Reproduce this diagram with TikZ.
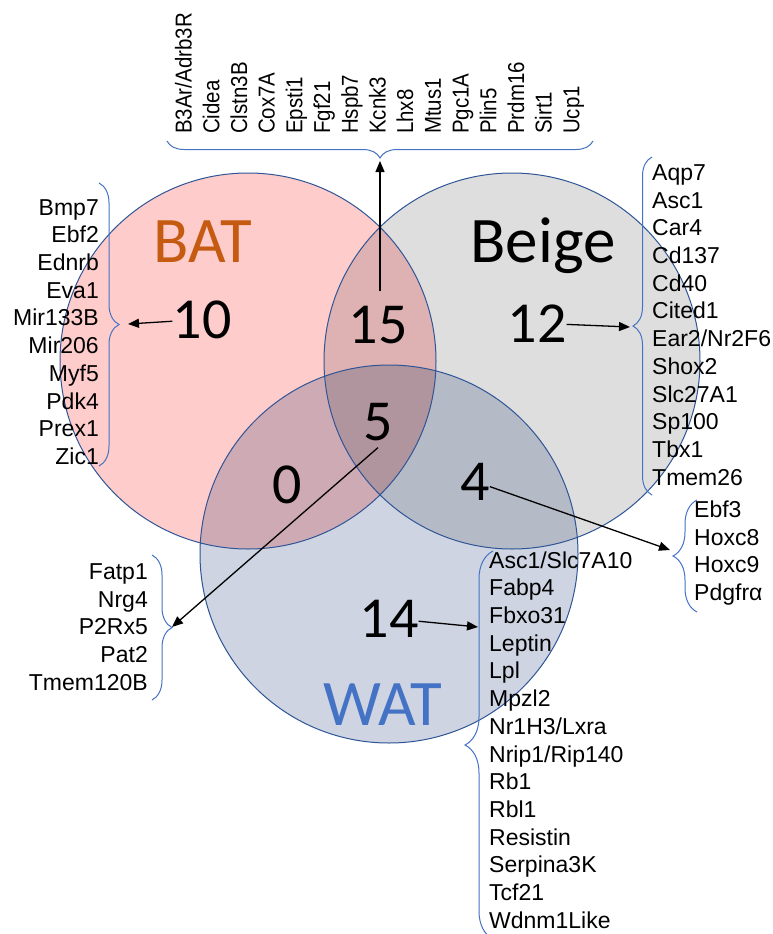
\documentclass[tikz,border=0pt]{standalone}
\usepackage{fontspec}
\setmainfont{Liberation Sans}
\newfontfamily\calib{Carlito}
\usetikzlibrary{decorations.pathreplacing,arrows.meta}

\definecolor{batfill}{RGB}{255,204,204}
\definecolor{beigefill}{RGB}{222,222,222}
\definecolor{watfill}{RGB}{206,212,226}
\definecolor{batbeige}{RGB}{222,178,178}
\definecolor{batwat}{RGB}{206,170,181}
\definecolor{beigewat}{RGB}{181,186,199}
\definecolor{allthree}{RGB}{176,148,158}
\definecolor{ringcol}{RGB}{47,85,151}
\definecolor{bracecol}{RGB}{68,114,196}
\definecolor{batlabel}{RGB}{197,90,17}
\definecolor{watlabel}{RGB}{68,114,196}

\newcommand\genefont{\fontsize{23}{27.7}\selectfont}

\begin{document}
\begin{tikzpicture}[x=1pt,y=-1pt,
  gene/.style={font=\genefont, inner sep=0pt},
  count/.style={font=\calib\fontsize{58}{70}\selectfont, inner sep=0pt},
  setlbl/.style={font=\calib\fontsize{65}{78}\selectfont, inner sep=0pt},
  gbrace/.style={draw=bracecol, line width=1pt, decorate, decoration={brace, amplitude=#1}},
  pointer/.style={draw=black, line width=1.3pt, -{Triangle[length=11pt,width=9pt]}},
  ring/.style={draw=ringcol, line width=1pt}]

\useasboundingbox (0,0) rectangle (772,934);
\fill[white] (0,0) rectangle (772,934);
\clip (0,0) rectangle (772,934);

% circle centres
\coordinate (cbat) at (248,361);
\coordinate (cbeige) at (512,361);
\coordinate (cwat) at (389,554);
\def\rbat{188}
\def\rbeige{188}
\def\rwat{189}

% region fills
\fill[batfill] (cbat) circle[radius=\rbat];
\fill[beigefill] (cbeige) circle[radius=\rbeige];
\fill[watfill] (cwat) circle[radius=\rwat];
\begin{scope}
  \clip (cbeige) circle[radius=\rbeige];
  \fill[beigewat] (cwat) circle[radius=\rwat];
\end{scope}
\begin{scope}
  \clip (cbat) circle[radius=\rbat];
  \fill[batbeige] (cbeige) circle[radius=\rbeige];
  \fill[batwat] (cwat) circle[radius=\rwat];
  \clip (cbeige) circle[radius=\rbeige];
  \fill[allthree] (cwat) circle[radius=\rwat];
\end{scope}

% outlines
\draw[ring] (cbat) circle[radius=\rbat];
\draw[ring] (cbeige) circle[radius=\rbeige];
\draw[ring] (cwat) circle[radius=\rwat];

% set labels
\node[setlbl, text=batlabel, anchor=base] (batlbl) at (203,262) {BAT};
\node[setlbl, text=black, anchor=base] (beigelbl) at (543,262) {Beige};
\node[setlbl, text=watlabel, anchor=base] (watlbl) at (383,725) {WAT};

% counts
\node[count, anchor=base] (n10) at (202,338) {10};
\node[count, anchor=base] (n12) at (537,342) {12};
\node[count, anchor=base] (n15) at (378,343) {15};
\node[count, anchor=base] (n5) at (378,440) {5};
\node[count, anchor=base] (n0) at (287,503) {0};
\node[count, anchor=base] (n4) at (475,500) {4};
\node[count, anchor=base] (n14) at (389,637) {14};

% gene lists
\node[gene, align=right, anchor=east] (batgenes) at (99,332)
  {Bmp7\\Ebf2\\Ednrb\\Eva1\\Mir133B\\Mir206\\Myf5\\Pdk4\\Prex1\\Zic1};
\node[gene, align=left, anchor=west] (beigegenes) at (652,325)
  {Aqp7\\Asc1\\Car4\\Cd137\\Cd40\\Cited1\\Ear2/Nr2F6\\Shox2\\Slc27A1\\Sp100\\Tbx1\\Tmem26};
\node[gene, rotate=90, anchor=west] (coregenes) at (380,134)
  {\scalebox{0.89}[1]{\begin{tabular}{@{}l@{}}B3Ar/Adrb3R\\Cidea\\Clstn3B\\Cox7A\\Epsti1\\Fgf21\\Hspb7\\Kcnk3\\Lhx8\\Mtus1\\Pgc1A\\Plin5\\Prdm16\\Sirt1\\Ucp1\end{tabular}}};
\node[gene, align=right, anchor=east] (sharedgenes) at (148,627)
  {Fatp1\\Nrg4\\P2Rx5\\Pat2\\Tmem120B};
\node[gene, align=left, anchor=west] (beigewatgenes) at (694,553)
  {Ebf3\\Hoxc8\\Hoxc9\\Pdgfr\char"03B1};
\node[gene, align=left, anchor=west] (watgenes) at (489,740)
  {Asc1/Slc7A10\\Fabp4\\Fbxo31\\Leptin\\Lpl\\Mpzl2\\Nr1H3/Lxra\\Nrip1/Rip140\\Rb1\\Rbl1\\Resistin\\Serpina3K\\Tcf21\\Wdnm1Like};

% braces
\draw[gbrace=17pt] (593,141) -- (167,141);
\draw[gbrace=20pt] (99,183) -- (99,466);
\draw[gbrace=19pt] (652,495) -- (652,157);
\draw[gbrace=20pt] (152,555) -- (152,700);
\draw[gbrace=24pt] (697,612) -- (697,500);
\draw[gbrace=28pt] (493,939) -- (493,551);

% brace tips
\coordinate (tip10) at (128,324);
\coordinate (tip12) at (630,327);
\coordinate (tip15) at (380,161);
\coordinate (tip5) at (172,627);
\coordinate (tip4) at (670,550);
\coordinate (tip14) at (478,627);

% pointers
\coordinate (from15) at ([yshift=14pt]n15.north);
\draw[pointer] (n10) -- (tip10);
\draw[pointer] (n12) -- (tip12);
\draw[pointer] (from15 -| tip15) -- (tip15);
\draw[pointer] ([yshift=-7pt]n5.south) -- (tip5);
\draw[pointer] (n4) -- (tip4);
\draw[pointer] (n14) -- (tip14);
\end{tikzpicture}
\end{document}
